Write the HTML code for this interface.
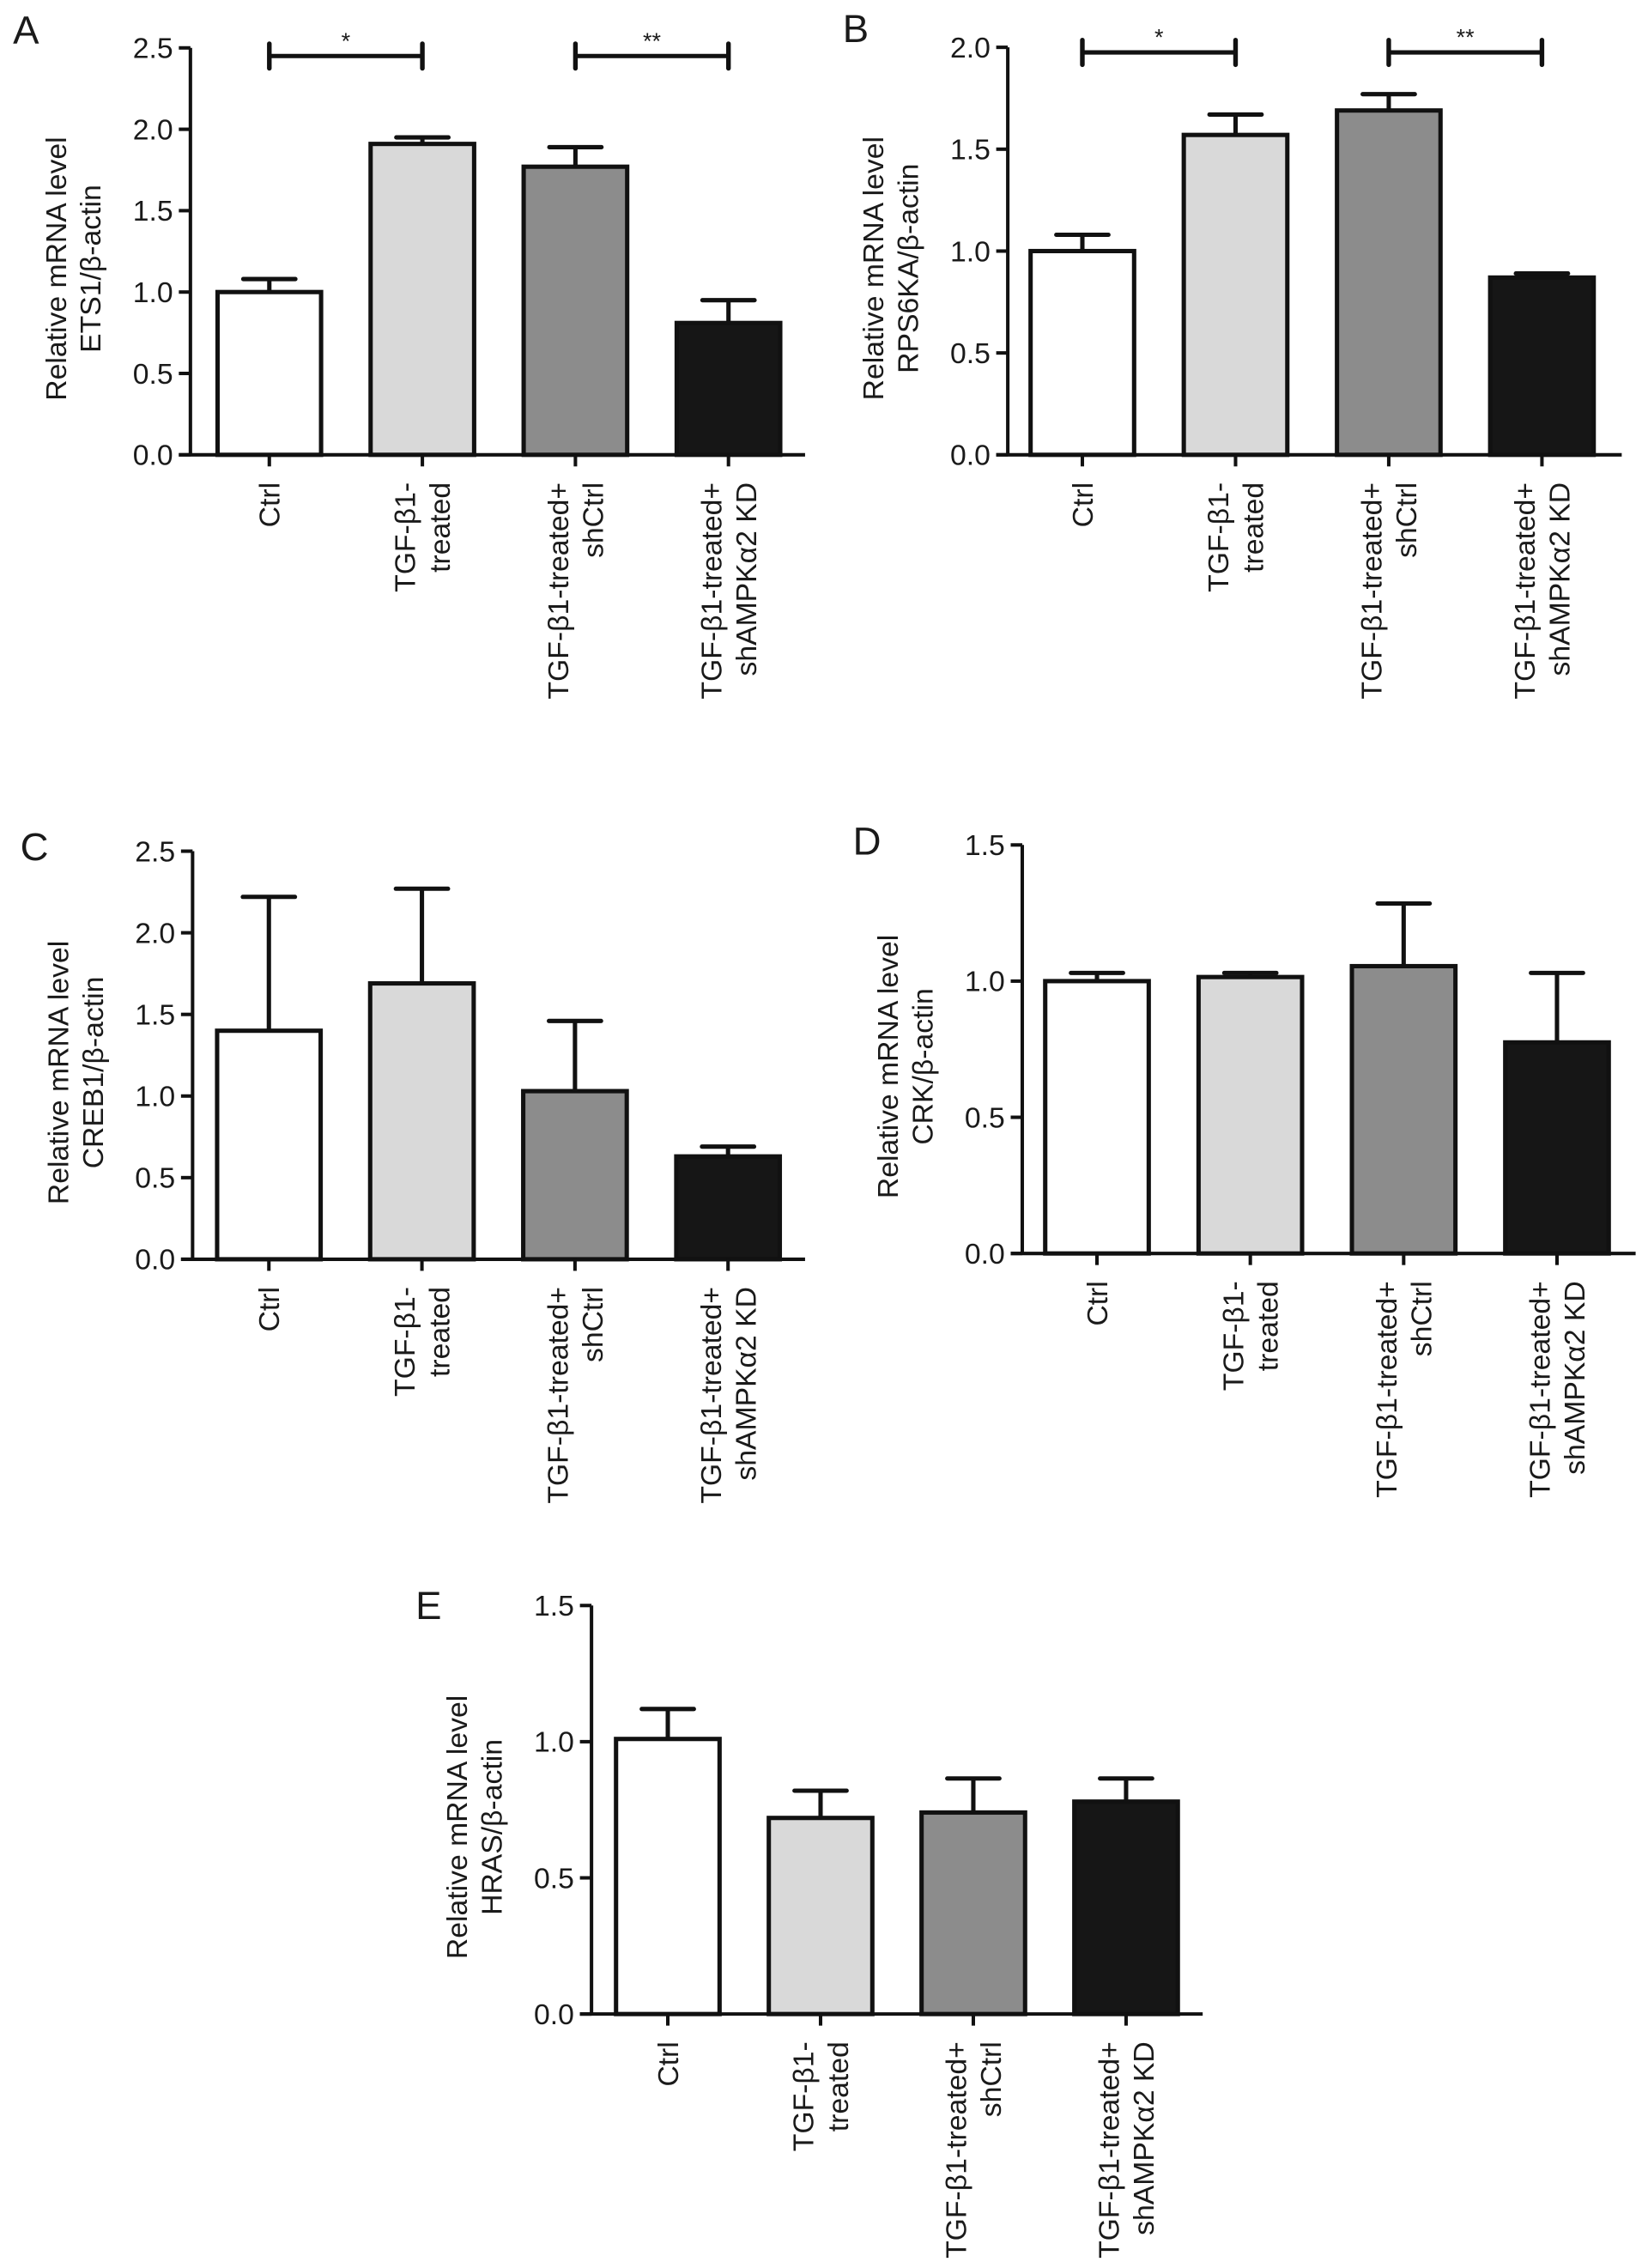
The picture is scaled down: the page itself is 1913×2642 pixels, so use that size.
<!DOCTYPE html>
<html><head><meta charset="utf-8">
<style>
html,body{margin:0;padding:0;background:#fff;}
svg{display:block;}
text{font-family:"Liberation Sans",Arial,sans-serif;fill:#1a1a1a;}
</style></head>
<body>
<svg id="fig" xmlns="http://www.w3.org/2000/svg" width="1913" height="2642" viewBox="0 0 1134 1566"></svg>
<script>
// ---- data ----
const categories = [["Ctrl"],["TGF-\u03b21-","treated"],["TGF-\u03b21-treated+","shCtrl"],["TGF-\u03b21-treated+","shAMPK\u03b12 KD"]];
const etsValues = [1.00, 1.91, 1.77, 0.81];
const etsErrors = [0.08, 0.04, 0.12, 0.14];
const rpsValues = [1.00, 1.57, 1.69, 0.87];
const rpsErrors = [0.08, 0.10, 0.08, 0.02];
const crebValues = [1.40, 1.69, 1.03, 0.63];
const crebErrors = [0.82, 0.58, 0.43, 0.06];
const crkValues = [1.00, 1.015, 1.055, 0.775];
const crkErrors = [0.03, 0.015, 0.23, 0.255];
const hrasValues = [1.01, 0.72, 0.74, 0.78];
const hrasErrors = [0.11, 0.10, 0.125, 0.085];
const ticksA = ["0.0","0.5","1.0","1.5","2.0","2.5"];
const ticksB = ["0.0","0.5","1.0","1.5","2.0"];
const ticksD = ["0.0","0.5","1.0","1.5"];
const fills = ["#ffffff","#d9d9d9","#8c8c8c","#161616"];

const NS="http://www.w3.org/2000/svg";
const svg=document.getElementById('fig');
function mk(tag,attrs,parent){const e=document.createElementNS(NS,tag);for(const k in attrs)e.setAttribute(k,attrs[k]);(parent||svg).appendChild(e);return e;}

function panel(p){
  const g=mk('g',{});
  
  
  const yScale=v=>p.y0-(v/p.max)*(p.y0-p.ytop);
  const xScale=i=>p.c0+i*p.pitch;
  const bw=71.5, capHalf=18;
  const L=mk('text',{x:p.lx,y:p.ly,'font-size':27},g);L.textContent=p.letter;
  
  
  const ya=mk('line',{x1:p.ax,y1:p.ytop,x2:p.ax,y2:p.y0,stroke:'#111','stroke-width':2.4},g);
  
  
  p.ticks.forEach((t,i)=>{
    const v=parseFloat(t), y=yScale(v);
    const tl=mk('line',{x1:p.ax-8,y1:y,x2:p.ax,y2:y,stroke:'#111','stroke-width':2.4},g);
    
    
    const tx=mk('text',{x:p.ax-12,y:y+7,'font-size':20,'text-anchor':'end'},g);tx.textContent=t;
    
    
  });
  const cy=(p.ytop+p.y0)/2+12;
  const tt=mk('text',{transform:`translate(${p.ax-62},${cy}) rotate(-90)`,'font-size':20,'text-anchor':'middle'},g);
  
  
  const t1=mk('tspan',{x:0,y:-24},tt);t1.textContent='Relative mRNA level';
  const t2=mk('tspan',{x:0,y:0},tt);t2.textContent=p.ytitle;
  p.values.forEach((v,i)=>{
    const cx=xScale(i), top=yScale(v), et=yScale(v+p.errors[i]);
    const eb=mk('line',{x1:cx,y1:top,x2:cx,y2:et,stroke:'#111','stroke-width':3},g);
    
    
    const ec=mk('line',{x1:cx-capHalf,y1:et,x2:cx+capHalf,y2:et,stroke:'#111','stroke-width':3,'stroke-linecap':'round'},g);
    
    
    const r=mk('rect',{x:cx-bw/2,y:top,width:bw,height:p.y0-top,fill:fills[i],stroke:'#111','stroke-width':3},g);
    
    
  });
  const xa=mk('line',{x1:p.ax-8,y1:p.y0,x2:p.xend,y2:p.y0,stroke:'#111','stroke-width':2.4},g);
  
  
  categories.forEach((c,i)=>{
    const cx=xScale(i);
    const tk=mk('line',{x1:cx,y1:p.y0,x2:cx,y2:p.y0+8,stroke:'#111','stroke-width':2.4},g);
    
    
    const n=c.length;
    const lab=mk('text',{transform:`translate(${cx+7},${p.y0+19}) rotate(-90)`,'font-size':20,'text-anchor':'end'},g);
    
    
    c.forEach((s,j)=>{const ts=mk('tspan',{x:0,y:(j-(n-1)/2)*24},lab);ts.textContent=s;});
  });
  (p.sig||[]).forEach(s=>{
    const x1=xScale(s.a), x2=xScale(s.b), y=yScale(s.level);
    const sl=mk('line',{x1:x1,y1:y,x2:x2,y2:y,stroke:'#111','stroke-width':3},g);
    
    
    [x1,x2].forEach(x=>{const c=mk('line',{x1:x,y1:y-8.5,x2:x,y2:y+8.5,stroke:'#111','stroke-width':3.2,'stroke-linecap':'round'},g);
      
      });
    const st=mk('text',{x:(x1+x2)/2,y:y-5,'font-size':16,'text-anchor':'middle'},g);st.textContent=s.label;
    
    
  });
}

panel({letter:'A',lx:9,ly:30,ax:131.5,y0:314,ytop:33,max:2.5,c0:186,pitch:105.7,xend:556,ticks:ticksA,values:etsValues,errors:etsErrors,ytitle:'ETS1/\u03b2-actin',
  sig:[{a:0,b:1,level:2.45,label:'*'},{a:2,b:3,level:2.45,label:'**'}]});
panel({letter:'B',lx:582,ly:29,ax:696,y0:314,ytop:32.6,max:2.0,c0:747.5,pitch:105.8,xend:1120,ticks:ticksB,values:rpsValues,errors:rpsErrors,ytitle:'RPS6KA/\u03b2-actin',
  sig:[{a:0,b:1,level:1.975,label:'*'},{a:2,b:3,level:1.975,label:'**'}]});
panel({letter:'C',lx:14,ly:594,ax:133,y0:869.5,ytop:587.7,max:2.5,c0:185.7,pitch:105.7,xend:556,ticks:ticksA,values:crebValues,errors:crebErrors,ytitle:'CREB1/\u03b2-actin'});
panel({letter:'D',lx:589,ly:590,ax:706,y0:865.5,ytop:583.4,max:1.5,c0:757.6,pitch:105.9,xend:1129.6,ticks:ticksD,values:crkValues,errors:crkErrors,ytitle:'CRK/\u03b2-actin'});
panel({letter:'E',lx:287,ly:1118,ax:408.5,y0:1390.7,ytop:1108.6,max:1.5,c0:461.2,pitch:105.5,xend:830.6,ticks:ticksD,values:hrasValues,errors:hrasErrors,ytitle:'HRAS/\u03b2-actin'});
</script>
</body></html>
